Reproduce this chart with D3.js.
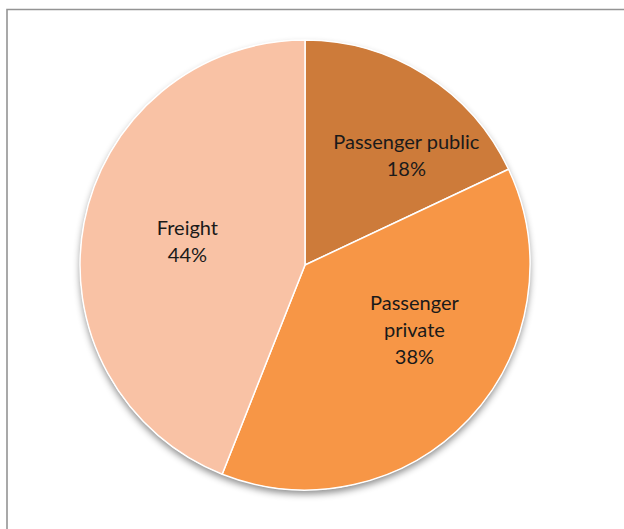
<!DOCTYPE html>
<html>
<head>
<meta charset="utf-8">
<script src="https://cdn.jsdelivr.net/npm/d3@7"></script>
<style>
  html, body { margin: 0; padding: 0; background: #fff; }
  svg { display: block; }
</style>
</head>
<body>
<svg id="chart" width="624" height="529"></svg>
<script>
const categories = ["Passenger public", "Passenger private", "Freight"];
const values = [18, 38, 44];
const labelLines = [["Passenger public", "18%"], ["Passenger", "private", "38%"], ["Freight", "44%"]];
const colors = ["#CD7B3A", "#F79646", "#F9C2A5"];
const labelShift = [[29, 4], [11, -27], [15, 2]];

const svg = d3.select("#chart");
const W = 624, H = 529;
const cx = 305, cy = 265, R = 225;

// frame (top and left edges)
svg.append("path")
  .attr("d", `M7,${H} L7,9.5 L${W},9.5`)
  .attr("fill", "none")
  .attr("stroke", "#949494")
  .attr("stroke-width", 1.6);

const defs = svg.append("defs");
const f = defs.append("filter").attr("id", "shadow")
  .attr("x", "-20%").attr("y", "-20%").attr("width", "140%").attr("height", "140%");
f.append("feDropShadow").attr("dx", 0).attr("dy", 4).attr("stdDeviation", 3.5)
  .attr("flood-color", "#000").attr("flood-opacity", 0.45);

const pie = d3.pie().sort(null).value(d => d)(values);
const arc = d3.arc().innerRadius(0).outerRadius(R);
const labelArc = d3.arc().innerRadius(R * 1.2).outerRadius(0); // centroid at 0.6R

const g = svg.append("g").attr("transform", `translate(${cx},${cy})`);

g.append("circle").attr("r", R).attr("fill", "#fff").attr("filter", "url(#shadow)");

g.selectAll("path.slice").data(pie).join("path")
  .attr("class", "slice")
  .attr("d", arc)
  .attr("fill", (d, i) => colors[i])
  .attr("stroke", "#fff")
  .attr("stroke-width", 1.5)
  .attr("stroke-linejoin", "round");

const lineH = 27;
pie.forEach((d, i) => {
  const [x0, y0] = labelArc.centroid(d);
  const x = x0 + labelShift[i][0], y = y0 + labelShift[i][1];
  const lines = labelLines[i];
  const t = g.append("text")
    .attr("text-anchor", "middle")
    .attr("font-family", "Lato, 'Open Sans', sans-serif")
    .attr("font-size", 20)
    .attr("fill", "#1a1a1a");
  lines.forEach((ln, j) => {
    t.append("tspan")
      .attr("x", x)
      .attr("y", y + (j - (lines.length - 1) / 2) * lineH)
      .attr("dy", "0.35em")
      .text(ln);
  });
});
</script>
</body>
</html>
